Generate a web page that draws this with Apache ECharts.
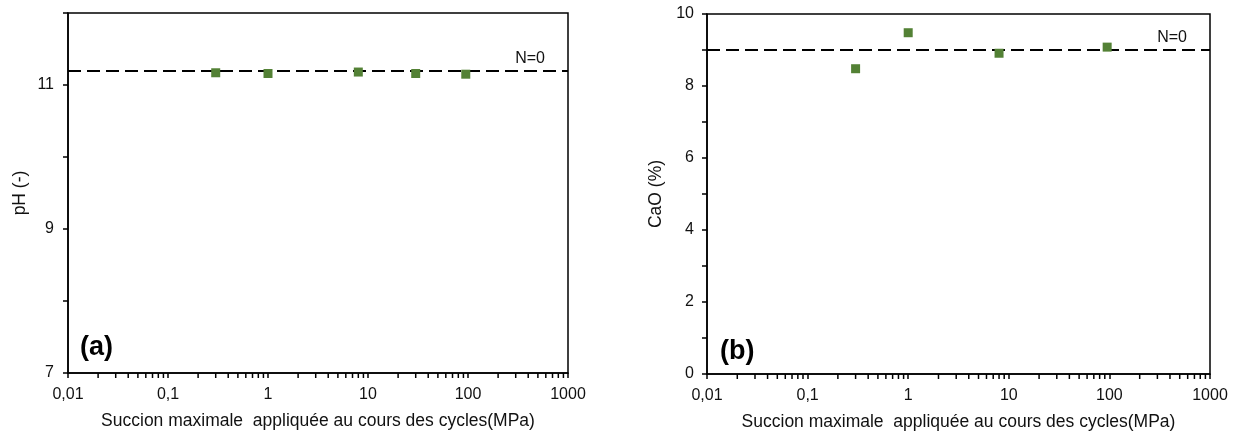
<!DOCTYPE html>
<html>
<head>
<meta charset="utf-8">
<script src="https://cdn.jsdelivr.net/npm/echarts@6/dist/echarts.min.js"></script>
<style>
html,body{margin:0;padding:0;background:#fff;}
#chart{width:1235px;height:432px;}
</style>
</head>
<body>
<div id="chart"></div>
<script>
// ---- data ----
const suctionPH = [0.3, 1, 8, 30, 95];
const phValues = [11.17, 11.16, 11.18, 11.16, 11.15];
const phReference = 11.2;

const suctionCaO = [0.3, 1, 8, 95];
const caoValues = [8.48, 9.48, 8.91, 9.08];
const caoReference = 9.0;

const xTickLabels = ['0,01', '0,1', '1', '10', '100', '1000'];
const phTickLabels = [7, 9, 11];
const caoTickLabels = [0, 2, 4, 6, 8, 10];
const minorTickValues = [];
for (let e = -2; e < 3; e++) for (let m = 2; m <= 9; m++) minorTickValues.push(m * Math.pow(10, e));

const xTitle = 'Succion maximale  appliquée au cours des cycles(MPa)';
const referenceLabel = 'N=0';

// ---- styles ----
const FONT = "'Liberation Sans', Arial, sans-serif";
const TXT = '#111';
const GREEN = '#538135';

function xAxisDef(gi) {
  return {
    type: 'log', logBase: 10, min: 0.01, max: 1000, gridIndex: gi,
    name: xTitle, nameLocation: 'middle', nameGap: 39,
    nameTextStyle: {fontFamily: FONT, fontSize: 17.5, color: TXT},
    axisLine: {show: true, onZero: false, lineStyle: {color: '#000', width: 1.5}},
    axisTick: {show: true, inside: false, length: 5, lineStyle: {color: '#000', width: 1.5}},
    axisLabel: {fontFamily: FONT, fontSize: 16, color: TXT, margin: 14,
      formatter: v => xTickLabels[Math.round(Math.log10(v)) + 2] || ''},
    splitLine: {show: false}
  };
}
function yAxisDef(gi, min, max, labels, name, gap, margin) {
  return {
    type: 'value', min: min, max: max, interval: 1, gridIndex: gi,
    name: name, nameLocation: 'middle', nameGap: gap, nameRotate: 90,
    nameTextStyle: {fontFamily: FONT, fontSize: 17.5, color: TXT},
    axisLine: {show: true, onZero: false, lineStyle: {color: '#000', width: 1.5}},
    axisTick: {show: true, inside: false, length: 5, lineStyle: {color: '#000', width: 1.5}},
    axisLabel: {fontFamily: FONT, fontSize: 16, color: TXT, margin: margin,
      showMaxLabel: true,
      formatter: v => labels.indexOf(Math.round(v)) >= 0 && Math.abs(v - Math.round(v)) < 1e-9 ? String(Math.round(v)) : ''},
    splitLine: {show: false}
  };
}
function minorTicks(xi, yi, ymin) {
  return {
    type: 'custom', xAxisIndex: xi, yAxisIndex: yi, silent: true, clip: false,
    data: minorTickValues.map(v => [v, ymin]),
    renderItem: (params, api) => {
      const p = api.coord([api.value(0), api.value(1)]);
      return {type: 'line', shape: {x1: p[0], y1: p[1], x2: p[0], y2: p[1] + 5},
        style: {stroke: '#000', lineWidth: 1.5}};
    },
    z: 1
  };
}
function refLine(y) {
  return {
    silent: true, symbol: ['none', 'none'],
    lineStyle: {color: '#000', type: [13, 6], width: 2},
    label: {show: true, position: 'insideEndTop', formatter: referenceLabel,
      fontFamily: FONT, fontSize: 16, color: TXT, distance: [23, 4]},
    data: [{yAxis: y}]
  };
}

const chart = echarts.init(document.getElementById('chart'), null, {renderer: 'canvas'});
chart.setOption({
  animation: false,
  backgroundColor: '#fff',
  title: [
    {text: '(a)', left: 75, top: 329, textStyle: {fontFamily: FONT, fontSize: 27, fontWeight: 'bold', color: '#000'}},
    {text: '(b)', left: 715, top: 333, textStyle: {fontFamily: FONT, fontSize: 27, fontWeight: 'bold', color: '#000'}}
  ],
  grid: [
    {left: 68, top: 13, width: 500, height: 360, show: true, borderColor: '#000', borderWidth: 1.5,
      backgroundColor: 'transparent', containLabel: false, outerBoundsMode: 'none'},
    {left: 707, top: 14, width: 503, height: 360, show: true, borderColor: '#000', borderWidth: 1.5,
      backgroundColor: 'transparent', containLabel: false, outerBoundsMode: 'none'}
  ],
  xAxis: [xAxisDef(0), xAxisDef(1)],
  yAxis: [
    yAxisDef(0, 7, 12, phTickLabels, 'pH (-)', 39, 14),
    yAxisDef(1, 0, 10, caoTickLabels, 'CaO (%)', 42, 13)
  ],
  series: [
    {type: 'scatter', xAxisIndex: 0, yAxisIndex: 0, symbol: 'rect', symbolSize: 9,
      itemStyle: {color: GREEN, opacity: 1}, data: suctionPH.map((x, i) => [x, phValues[i]]),
      markLine: refLine(phReference), z: 5},
    {type: 'scatter', xAxisIndex: 1, yAxisIndex: 1, symbol: 'rect', symbolSize: 9,
      itemStyle: {color: GREEN, opacity: 1}, data: suctionCaO.map((x, i) => [x, caoValues[i]]),
      markLine: refLine(caoReference), z: 5},
    minorTicks(0, 0, 7),
    minorTicks(1, 1, 0)
  ]
});
</script>
</body>
</html>
